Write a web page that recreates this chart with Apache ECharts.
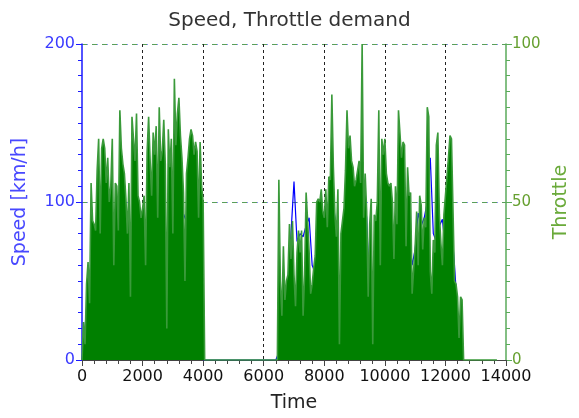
<!DOCTYPE html>
<html>
<head>
<meta charset="utf-8">
<script src="https://cdn.jsdelivr.net/npm/echarts@6/dist/echarts.min.js"></script>
<style>html,body{margin:0;padding:0;background:#fff}#c{width:579px;height:418px}</style>
</head>
<body>
<div id="c"></div>
<script>
// ---- data ----
const titleText = "Speed, Throttle demand";
const xTicks = [0, 2000, 4000, 6000, 8000, 10000, 12000, 14000];

// Throttle [%], first drive block, sampled every 50 s from t = 0
const thrStep = 50;
const thrSeg1Start = 0;
const throttleSeg1 = [
  0,12,5,24,31,18,56,44,43,41,60,70,40,67,70,67,56,64,50,55,
  70,30,56,55,41,79,67,62,59,51,40,56,20,77,70,63,78,52,50,45,
  48,52,30,66,77,63,52,72,65,74,45,80,63,66,76,62,10,73,61,70,
  40,89,68,78,83,71,64,53,25,59,64,70,73,71,65,69,66,45,69,55,
  50,0
];
// Throttle [%], second drive block, sampled every 50 s from t = 6450
const thrSeg2Start = 6450;
const throttleSeg2 = [
  0,57,25,14,36,19,25,27,43,32,
  44,27,17,34,41,34,41,14,27,53,
  44,34,21,24,29,33,50,51,50,54,
  47,45,54,42,58,57,84,61,46,39,
  54,5,40,44,48,60,79,67,71,63,
  61,55,57,60,63,56,100,45,59,47,
  20,43,51,5,46,44,50,79,30,70,
  65,70,59,56,55,56,50,32,55,43,
  79,79,64,69,68,36,61,52,53,21,
  21,36,47,30,52,49,35,45,42,80,
  77,28,21,38,34,68,72,46,37,30,
  46,52,58,64,71,70,70,25,24,20,
  7,20,19,0
];
const throttleEnd = 13700;

// Speed [km/h], sampled every 100 s
const spdStep = 100;
const spdSeg1Start = 0;
const speedSeg1 = [
  0,20,45,60,70,75,90,85,90,85,
  80,70,60,55,50,25,35,55,70,65,
  60,75,90,80,95,85,90,100,10,60,
  80,95,100,95,90,85,95,100,90,95,
  0
];
const spdSeg2Start = 6400;
const speedSeg2 = [
  0,5,20,35,50,80,113,75,80,78,
  85,90,60,55,70,80,85,90,95,100,
  80,10,70,85,95,100,95,100,105,108,
  90,40,10,60,80,75,90,95,85,75,
  80,85,90,85,80,60,70,93,85,90,
  100,128,80,75,85,89,70,80,85,60,
  30,10,0
];

// ---- build series data ----
const thrData = [];
throttleSeg1.forEach((v, i) => thrData.push([thrSeg1Start + i * thrStep, v]));
throttleSeg2.forEach((v, i) => thrData.push([thrSeg2Start + i * thrStep, v]));
thrData.push([throttleEnd, 0]);

const spdData = [];
speedSeg1.forEach((v, i) => spdData.push([spdSeg1Start + i * spdStep, v]));
speedSeg2.forEach((v, i) => spdData.push([spdSeg2Start + i * spdStep, v]));

const FONT = "DejaVu Sans";
const chart = echarts.init(document.getElementById('c'), null, {renderer: 'canvas'});
chart.setOption({
  animation: false,
  backgroundColor: '#ffffff',
  title: {
    text: titleText, left: 'center', top: 6,
    textStyle: {fontFamily: FONT, fontSize: 20, fontWeight: 'normal', color: '#333333'}
  },
  grid: {left: 82, right: 70, top: 44, bottom: 57},
  xAxis: {
    type: 'value', min: 0, max: 14000, interval: 2000,
    name: 'Time', nameLocation: 'middle', nameGap: 34,
    nameTextStyle: {fontFamily: FONT, fontSize: 19, color: '#222'},
    axisLine: {show: true, onZero: false, lineStyle: {color: '#444', width: 1}},
    axisTick: {show: true, inside: false, length: 6, lineStyle: {color: '#444'}},
    minorTick: {show: true, splitNumber: 5, length: 4, lineStyle: {color: '#444'}},
    axisLabel: {fontFamily: FONT, fontSize: 16, color: '#111', margin: 9,
      formatter: v => xTicks.includes(v) ? String(v) : ''},
    splitLine: {show: true, showMinLine: false, showMaxLine: false,
      lineStyle: {color: '#222', type: [3, 3], width: 1}}
  },
  yAxis: [
    {
      type: 'value', min: 0, max: 200, interval: 100, position: 'left',
      name: 'Speed [km/h]', nameLocation: 'middle', nameGap: 52,
      nameTextStyle: {fontFamily: FONT, fontSize: 19, color: '#4848ff'},
      axisLine: {show: true, lineStyle: {color: '#1a1aff', width: 1.5}},
      axisTick: {show: true, length: 6, lineStyle: {color: '#1a1aff'}},
      minorTick: {show: true, splitNumber: 10, length: 4, lineStyle: {color: '#1a1aff'}},
      axisLabel: {fontFamily: FONT, fontSize: 16, color: '#3a3aff', margin: 7},
      splitLine: {show: true, showMinLine: false,
        lineStyle: {color: '#8c8cff', type: [2, 8], width: 1, dashOffset: 6}}
    },
    {
      type: 'value', min: 0, max: 100, interval: 50, position: 'right',
      name: 'Throttle', nameLocation: 'middle', nameGap: 46,
      nameTextStyle: {fontFamily: FONT, fontSize: 19, color: '#6aaa3a'},
      axisLine: {show: true, lineStyle: {color: '#5aaa5a', width: 1.5}},
      axisTick: {show: true, length: 6, lineStyle: {color: '#5aaa5a'}},
      minorTick: {show: true, splitNumber: 10, length: 4, lineStyle: {color: '#5aaa5a'}},
      axisLabel: {fontFamily: FONT, fontSize: 15, color: '#66a030', margin: 6},
      splitLine: {show: true, showMinLine: false,
        lineStyle: {color: '#5a9f5a', type: [5, 5], width: 1}}
    }
  ],
  series: [
    {
      name: 'Speed', type: 'line', yAxisIndex: 0, data: spdData, z: 1,
      showSymbol: false, symbol: 'none',
      lineStyle: {color: '#0000ff', width: 1.2}
    },
    {
      name: 'Throttle', type: 'line', yAxisIndex: 1, data: thrData, z: 3,
      showSymbol: false, symbol: 'none',
      lineStyle: {color: '#3a9a3a', width: 1.6},
      areaStyle: {color: '#008000', opacity: 1}
    }
  ]
});
</script>
</body>
</html>
